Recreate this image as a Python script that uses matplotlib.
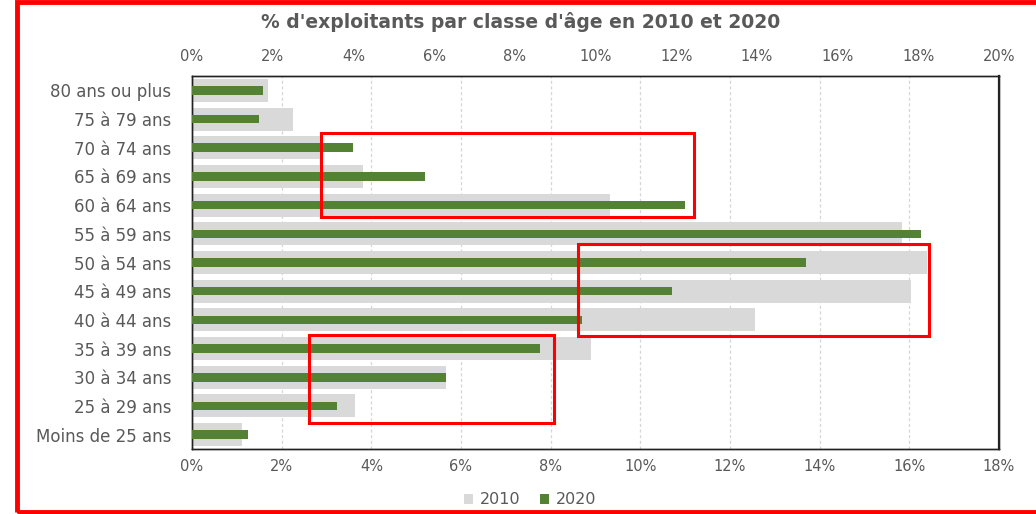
import matplotlib
matplotlib.use("Agg")
import matplotlib.pyplot as plt
from matplotlib.patches import Patch, Rectangle
import numpy as np

categories = ["80 ans ou plus", "75 à 79 ans", "70 à 74 ans", "65 à 69 ans",
              "60 à 64 ans", "55 à 59 ans", "50 à 54 ans", "45 à 49 ans",
              "40 à 44 ans", "35 à 39 ans", "30 à 34 ans", "25 à 29 ans",
              "Moins de 25 ans"]
values_2010 = [1.69, 2.25, 2.90, 3.81, 9.32, 15.83, 16.39, 16.03, 12.55, 8.90, 5.66, 3.63, 1.11]
values_2020 = [1.76, 1.66, 3.99, 5.77, 12.22, 18.07, 15.22, 11.90, 9.67, 8.62, 6.30, 3.59, 1.39]
bottom_ticks = [0, 2, 4, 6, 8, 10, 12, 14, 16, 18]
top_ticks = [0, 2, 4, 6, 8, 10, 12, 14, 16, 18, 20]
title = "% d'exploitants par classe d'âge en 2010 et 2020"

# highlight boxes (x in % of bottom axis, y in category units)
boxes = [(2.88, 11.19, 1.49, 4.41), (8.61, 16.43, 5.36, 8.56), (2.61, 8.07, 8.53, 11.59)]

GRAY = "#D9D9D9"
GREEN = "#548235"
TXT = "#595959"

plt.rcParams['font.family'] = ['DejaVu Sans']

fig = plt.figure(figsize=(10.36, 5.14), dpi=100)
ax = fig.add_axes([192/1036, 1-449/514, (999-192)/1036, (449-76)/514])
y = np.arange(len(categories))

ax.barh(y, values_2010, height=0.8, color=GRAY, zorder=2)
ax.set_xlim(0, 18)
ax.set_ylim(len(categories)-0.5, -0.5)
ax.set_yticks(y)
ax.set_yticklabels(categories, fontsize=12, color=TXT)
ax.set_xticks(bottom_ticks)
ax.set_xticklabels([f"{t}%" for t in bottom_ticks], fontsize=10.5, color=TXT)
ax.tick_params(axis='both', length=0)
ax.tick_params(axis='y', pad=15)
ax.tick_params(axis='x', pad=7.5)
ax.grid(axis='x', color="#D6D6D6", linestyle=(0, (2.5, 2)), linewidth=0.9, zorder=1)
ax.set_axisbelow(True)

ax2 = ax.twiny()
ax2.barh(y, values_2020, height=0.3, color=GREEN, zorder=3)
ax2.set_xlim(0, 20)
ax2.set_ylim(len(categories)-0.5, -0.5)
ax2.set_xticks(top_ticks)
ax2.set_xticklabels([f"{t}%" for t in top_ticks], fontsize=10.5, color=TXT)
ax2.tick_params(axis='x', length=0, pad=8.5)

for a in (ax, ax2):
    for s in a.spines.values():
        s.set_color("#222222")
        s.set_linewidth(1.0)
ax2.spines['right'].set_linewidth(1.6)

# highlight boxes drawn above the green bars, positioned in bottom-axis data units
for x0, x1, y0, y1 in boxes:
    ax2.add_patch(Rectangle((x0, y0), x1-x0, y1-y0, fill=False, edgecolor="#FF0000",
                            linewidth=2.2, zorder=10, clip_on=False,
                            transform=ax.transData))

fig.text(521/1036, 1-22/514, title, ha='center', va='center', fontsize=13.5,
         fontweight='bold', color=TXT)

handles = [Patch(facecolor=GRAY, edgecolor='none', label="2010"),
           Patch(facecolor=GREEN, edgecolor='none', label="2020")]
fig.legend(handles=handles, loc='center', bbox_to_anchor=(530/1036, 1-500/514),
           ncol=2, frameon=False, fontsize=11.5, handlelength=0.6, handleheight=0.6,
           handletextpad=0.4, columnspacing=1.2, labelcolor=TXT)

# outer red frame
fig.patches.append(Rectangle((17/1036, 2/514), 1.1, 510/514, fill=False,
                             edgecolor="#FF0000", linewidth=3.5,
                             transform=fig.transFigure, figure=fig))

fig.savefig("out.png", dpi=100)
